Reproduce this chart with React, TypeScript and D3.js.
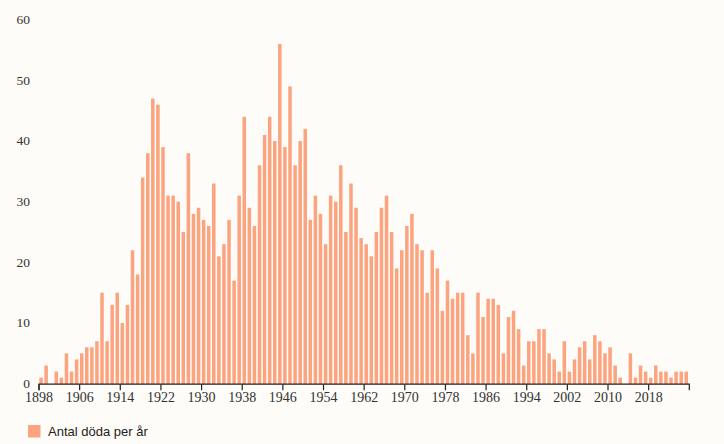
import * as d3 from 'd3';

// antal döda per år, 1898–2025
const years: number[] = d3.range(1898, 2026);
const deaths: number[] = [
  1, 3, 0, 2, 1, 5, 2, 4, 5, 6, 6, 7, 15, 7, 13, 15, 10, 13, 22, 18,
  34, 38, 47, 46, 39, 31, 31, 30, 25, 38, 28, 29, 27, 26, 33, 21, 23, 27, 17, 31,
  44, 29, 26, 36, 41, 44, 40, 56, 39, 49, 36, 40, 42, 27, 31, 28, 23, 31, 30, 36,
  25, 33, 29, 24, 23, 21, 25, 29, 31, 25, 19, 22, 26, 28, 23, 22, 15, 22, 19, 12,
  17, 14, 15, 15, 8, 5, 15, 11, 14, 14, 13, 5, 11, 12, 9, 3, 7, 7, 9, 9,
  5, 4, 2, 7, 2, 4, 6, 7, 4, 8, 7, 5, 6, 3, 1, 0, 5, 1, 3, 2,
  1, 3, 2, 2, 1, 2, 2, 2,
];
const xTicks: number[] = [1898, 1906, 1914, 1922, 1930, 1938, 1946, 1954, 1962, 1970, 1978, 1986, 1994, 2002, 2010, 2018];
const yTicks: number[] = [0, 10, 20, 30, 40, 50, 60];
const legendLabel = 'Antal döda per år';

const W = 724;
const H = 444;
const barColor = '#fba47f';
const serif = '"Liberation Serif", "DejaVu Serif", serif';
const sans = '"Liberation Sans", Arial, sans-serif';

export default function App() {
  const x = d3.scaleLinear().domain([1898, 2026]).range([39, 689.3]);
  const y = d3.scaleLinear().domain([0, 60]).range([383.7, 19.7]);
  const step = x(1899) - x(1898);
  const barW = step * 0.69;
  const y0 = y(0) + 0.5;

  return (
    <svg
      width={W}
      height={H}
      style={{ position: 'fixed', left: 0, top: 0, background: '#fdfcf8' }}
    >
      <rect width={W} height={H} fill="#fdfcf8" />

      {/* y labels, no axis line */}
      <g fontFamily={serif} fontSize={13.5} fill="#333" textAnchor="end">
        {yTicks.map((t) => (
          <text key={t} x={30} y={y(t)} dy="0.33em">
            {t}
          </text>
        ))}
      </g>

      {/* bars */}
      <g fill={barColor}>
        {years.map((yr, i) =>
          deaths[i] > 0 ? (
            <rect
              key={yr}
              x={x(yr) + 0.3}
              y={y(deaths[i])}
              width={barW}
              height={y0 - y(deaths[i])}
            />
          ) : null
        )}
      </g>

      {/* x axis */}
      <g stroke="#222" strokeWidth={1.2} fill="none">
        <path d={`M${x(1898)},${y0 + 6}V${y0}H${x(2026)}V${y0 + 6}`} />
        {xTicks.map((t) => (
          <line key={t} x1={x(t)} x2={x(t)} y1={y0} y2={y0 + 6} />
        ))}
      </g>
      <g fontFamily={serif} fontSize={14} fill="#333" textAnchor="middle">
        {xTicks.map((t) => (
          <text key={t} x={x(t)} y={402}>
            {t}
          </text>
        ))}
      </g>

      {/* legend */}
      <rect x={28} y={425} width={12.5} height={12.5} fill={barColor} />
      <text x={48} y={436} fontFamily={sans} fontSize={13} fill="#222">
        {legendLabel}
      </text>
    </svg>
  );
}
